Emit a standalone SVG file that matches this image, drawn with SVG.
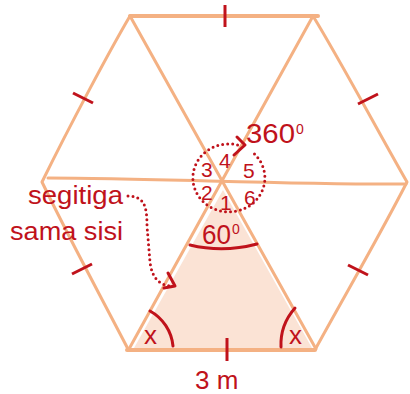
<svg xmlns="http://www.w3.org/2000/svg" width="410" height="394" viewBox="0 0 410 394">
<style>
.edge{fill:none;stroke:#f4b183;stroke-width:3;stroke-linecap:round;stroke-linejoin:round}
.thick{stroke-width:4}
.tick{stroke:#c0121b;stroke-width:3;stroke-linecap:butt;fill:none}
.red{fill:none;stroke:#c0121b;stroke-width:3;stroke-linecap:round;stroke-linejoin:round}
.dot{fill:none;stroke:#c0121b;stroke-width:3;stroke-linecap:round;stroke-dasharray:0 5}
text{font-family:"Liberation Sans","DejaVu Sans",sans-serif;fill:#c0121b}
.lbl{font-size:26px}
.big{font-size:28px}
.num{font-size:21px}
.sup{font-size:14px}
</style>
<rect width="410" height="394" fill="#ffffff"/>
<g id="triangle-fill">
<polygon points="223,190 134,348 312,348" fill="#fbe3d5"/>
</g>
<g id="hexagon">
<path class="edge" d="M130,16 C110,50 70,125 42,182 C70,240 100,295 128,349"/>
<path class="edge" d="M313,16 C340,60 380,135 407,182 C380,235 345,295 316,348"/>
<line class="edge thick" x1="130" y1="16" x2="318" y2="16"/>
<line class="edge thick" x1="127" y1="350" x2="315" y2="350"/>
</g>
<g id="connectors">
<path class="edge" d="M48,178 C150,178 300,185 406,184"/>
<line class="edge" x1="130" y1="16" x2="316" y2="349"/>
<line class="edge" x1="313" y1="16" x2="129" y2="349"/>
</g>
<g id="ticks">
<line class="tick" x1="225" y1="5" x2="225" y2="27"/>
<line class="tick" x1="227" y1="338" x2="227" y2="361"/>
<line class="tick" x1="73" y1="93" x2="93" y2="103"/>
<line class="tick" x1="72" y1="274" x2="92" y2="264"/>
<line class="tick" x1="358" y1="104" x2="378" y2="94"/>
<line class="tick" x1="348" y1="265" x2="368" y2="275"/>
</g>
<g id="angles">
<path class="red" d="M190,245 Q223,253 257,244"/>
<path class="red" d="M150,311 A45,45 0 0 1 173,346"/>
<path class="red" d="M295,308 Q280,325 281,347"/>
<text class="big" x="202" y="244" textLength="29" lengthAdjust="spacingAndGlyphs">60</text>
<text class="sup" x="232" y="234">0</text>
<text class="lbl" x="144" y="344">x</text>
<text class="lbl" x="289" y="344">x</text>
</g>
<g id="full-angle">
<path class="dot" d="M254.5,154 A36,34 0 1 1 238,145"/>
<polyline class="red" points="237,137 245,145 234,155"/>
<text class="big" x="246" y="143" textLength="49" lengthAdjust="spacingAndGlyphs">360</text>
<text class="sup" x="296" y="134">0</text>
<text class="num" x="201" y="177">3</text>
<text class="num" x="219" y="168">4</text>
<text class="num" x="243" y="178">5</text>
<text class="num" x="201" y="200">2</text>
<text class="num" x="220" y="210">1</text>
<text class="num" x="244" y="205">6</text>
</g>
<g id="label-segitiga">
<text class="lbl" x="28" y="204" textLength="95" lengthAdjust="spacingAndGlyphs">segitiga</text>
<text class="lbl" x="10" y="240" textLength="113" lengthAdjust="spacingAndGlyphs">sama sisi</text>
<path class="dot" d="M128,196 C144,196 147,206 147,226 L150,262 C152,279 160,285 171,286"/>
<polyline class="red" points="168,273 175,286 164,288"/>
</g>
<g id="side-label">
<text class="lbl" x="195" y="389">3 m</text>
</g>
</svg>
